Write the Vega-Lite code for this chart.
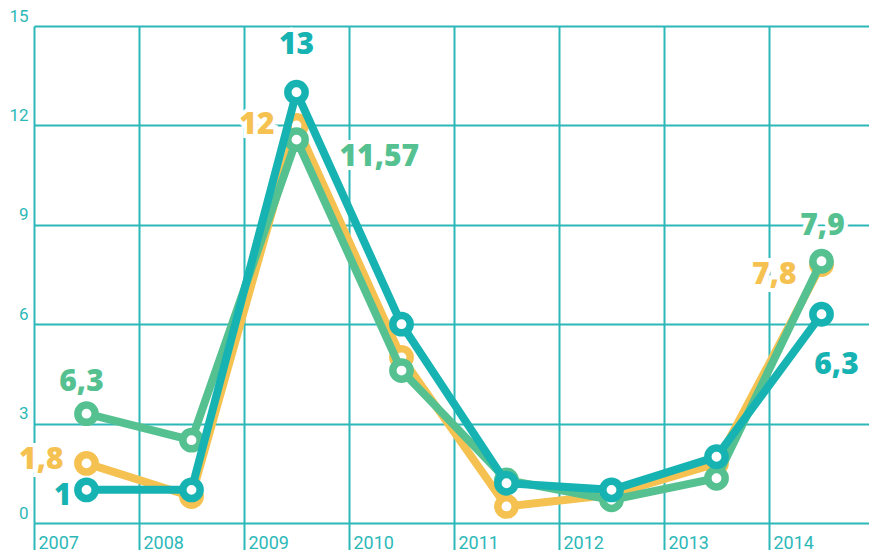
{
  "$schema": "https://vega.github.io/schema/vega-lite/v6.json",
  "width": 835,
  "height": 497,
  "autosize": "none",
  "padding": {"left": 34, "top": 26, "right": 0, "bottom": 27},
  "background": "white",
  "config": {"view": {"stroke": null}},
  "datasets": {
    "series": [
      {"year": "2007", "series": "yellow", "value": 1.8},
      {"year": "2008", "series": "yellow", "value": 0.8},
      {"year": "2009", "series": "yellow", "value": 12},
      {"year": "2010", "series": "yellow", "value": 5},
      {"year": "2011", "series": "yellow", "value": 0.5},
      {"year": "2012", "series": "yellow", "value": 0.85},
      {"year": "2013", "series": "yellow", "value": 1.8},
      {"year": "2014", "series": "yellow", "value": 7.8},
      {"year": "2007", "series": "green", "value": 3.3},
      {"year": "2008", "series": "green", "value": 2.5},
      {"year": "2009", "series": "green", "value": 11.57},
      {"year": "2010", "series": "green", "value": 4.6},
      {"year": "2011", "series": "green", "value": 1.3},
      {"year": "2012", "series": "green", "value": 0.7},
      {"year": "2013", "series": "green", "value": 1.35},
      {"year": "2014", "series": "green", "value": 7.9},
      {"year": "2007", "series": "teal", "value": 1},
      {"year": "2008", "series": "teal", "value": 1},
      {"year": "2009", "series": "teal", "value": 13},
      {"year": "2010", "series": "teal", "value": 6},
      {"year": "2011", "series": "teal", "value": 1.2},
      {"year": "2012", "series": "teal", "value": 1.0},
      {"year": "2013", "series": "teal", "value": 2.0},
      {"year": "2014", "series": "teal", "value": 6.3}
    ],
    "labels": [
      {"id": "a", "year": "2009", "series": "teal", "value": 13, "label": "13"},
      {"id": "b", "year": "2009", "series": "yellow", "value": 12, "label": "12"},
      {"id": "c", "year": "2009", "series": "green", "value": 11.57, "label": "11,57"},
      {"id": "d", "year": "2007", "series": "green", "value": 3.3, "label": "6,3"},
      {"id": "e", "year": "2007", "series": "yellow", "value": 1.8, "label": "1,8"},
      {"id": "f", "year": "2007", "series": "teal", "value": 1, "label": "1"},
      {"id": "g", "year": "2014", "series": "green", "value": 7.9, "label": "7,9"},
      {"id": "h", "year": "2014", "series": "yellow", "value": 7.8, "label": "7,8"},
      {"id": "i", "year": "2014", "series": "teal", "value": 6.3, "label": "6,3"}
    ]
  },
  "data": {"name": "series"},
  "encoding": {
    "x": {
      "field": "year", "type": "nominal",
      "scale": {"type": "band", "domain": ["2007","2008","2009","2010","2011","2012","2013","2014"], "range": [0, 840], "paddingInner": 0, "paddingOuter": 0},
      "axis": {
        "title": null, "domain": false, "bandPosition": 0,
        "grid": true, "gridColor": "#2db8b8", "gridWidth": 2, "gridOpacity": 1,
        "ticks": true, "tickSize": 27, "tickColor": "#2db8b8", "tickWidth": 2,
        "labelAlign": "left", "labelBaseline": "top", "labelOffset": -48, "labelPadding": -16,
        "labelColor": "#2db8b8", "labelFont": "Roboto", "labelFontSize": 18, "labelAngle": 0
      }
    },
    "y": {
      "field": "value", "type": "quantitative",
      "scale": {"domain": [0, 15], "nice": false, "zero": true},
      "axis": {
        "title": null, "domain": false, "ticks": false, "values": [0,3,6,9,12,15],
        "grid": true, "gridColor": "#2db8b8", "gridWidth": 2, "gridOpacity": 1,
        "labelAlign": "right", "labelBaseline": "bottom", "labelPadding": 6, "labelOffset": -1,
        "labelColor": "#2db8b8", "labelFont": "Roboto", "labelFontSize": 17
      }
    }
  },
  "layer": [
    {"transform": [{"filter": "datum.series === 'yellow'"}], "mark": {"type": "line", "color": "#f5c252", "strokeWidth": 8}},
    {"transform": [{"filter": "datum.series === 'yellow'"}], "mark": {"type": "point", "shape": "circle", "filled": true, "fill": "white", "stroke": "#f5c252", "strokeWidth": 7.5, "size": 300, "opacity": 1}},
    {"transform": [{"filter": "datum.series === 'green'"}], "mark": {"type": "line", "color": "#55c190", "strokeWidth": 8}},
    {"transform": [{"filter": "datum.series === 'green'"}], "mark": {"type": "point", "shape": "circle", "filled": true, "fill": "white", "stroke": "#55c190", "strokeWidth": 7.5, "size": 300, "opacity": 1}},
    {"transform": [{"filter": "datum.series === 'teal'"}], "mark": {"type": "line", "color": "#17b3b3", "strokeWidth": 8}},
    {"transform": [{"filter": "datum.series === 'teal'"}], "mark": {"type": "point", "shape": "circle", "filled": true, "fill": "white", "stroke": "#17b3b3", "strokeWidth": 7.5, "size": 300, "opacity": 1}},
    {"data": {"name": "labels"}, "transform": [{"filter": "datum.id === 'a'"}], "encoding": {"text": {"field": "label"}}, "layer": [
      {"mark": {"type": "text", "font": "Open Sans", "fontWeight": 800, "fontSize": 30, "align": "center", "baseline": "middle", "dy": -47, "stroke": "white", "strokeWidth": 8, "strokeOpacity": 1, "fill": "white"}},
      {"mark": {"type": "text", "font": "Open Sans", "fontWeight": 800, "fontSize": 30, "align": "center", "baseline": "middle", "dy": -47, "fill": "#17b3b3"}}
    ]},
    {"data": {"name": "labels"}, "transform": [{"filter": "datum.id === 'b'"}], "encoding": {"text": {"field": "label"}}, "layer": [
      {"mark": {"type": "text", "font": "Open Sans", "fontWeight": 800, "fontSize": 30, "align": "right", "baseline": "middle", "dx": -22, "dy": 0, "stroke": "white", "strokeWidth": 8, "strokeOpacity": 1, "fill": "white"}},
      {"mark": {"type": "text", "font": "Open Sans", "fontWeight": 800, "fontSize": 30, "align": "right", "baseline": "middle", "dx": -22, "dy": 0, "fill": "#f5c252"}}
    ]},
    {"data": {"name": "labels"}, "transform": [{"filter": "datum.id === 'c'"}], "encoding": {"text": {"field": "label"}}, "layer": [
      {"mark": {"type": "text", "font": "Open Sans", "fontWeight": 800, "fontSize": 30, "align": "left", "baseline": "middle", "dx": 43, "dy": 17, "stroke": "white", "strokeWidth": 8, "strokeOpacity": 1, "fill": "white"}},
      {"mark": {"type": "text", "font": "Open Sans", "fontWeight": 800, "fontSize": 30, "align": "left", "baseline": "middle", "dx": 43, "dy": 17, "fill": "#55c190"}}
    ]},
    {"data": {"name": "labels"}, "transform": [{"filter": "datum.id === 'd'"}], "encoding": {"text": {"field": "label"}}, "layer": [
      {"mark": {"type": "text", "font": "Open Sans", "fontWeight": 800, "fontSize": 30, "align": "center", "baseline": "middle", "dx": -5, "dy": -32, "stroke": "white", "strokeWidth": 8, "strokeOpacity": 1, "fill": "white"}},
      {"mark": {"type": "text", "font": "Open Sans", "fontWeight": 800, "fontSize": 30, "align": "center", "baseline": "middle", "dx": -5, "dy": -32, "fill": "#55c190"}}
    ]},
    {"data": {"name": "labels"}, "transform": [{"filter": "datum.id === 'e'"}], "encoding": {"text": {"field": "label"}}, "layer": [
      {"mark": {"type": "text", "font": "Open Sans", "fontWeight": 800, "fontSize": 30, "align": "right", "baseline": "middle", "dx": -23, "dy": -3, "stroke": "white", "strokeWidth": 8, "strokeOpacity": 1, "fill": "white"}},
      {"mark": {"type": "text", "font": "Open Sans", "fontWeight": 800, "fontSize": 30, "align": "right", "baseline": "middle", "dx": -23, "dy": -3, "fill": "#f5c252"}}
    ]},
    {"data": {"name": "labels"}, "transform": [{"filter": "datum.id === 'f'"}], "encoding": {"text": {"field": "label"}}, "layer": [
      {"mark": {"type": "text", "font": "Open Sans", "fontWeight": 800, "fontSize": 30, "align": "right", "baseline": "middle", "dx": -15, "dy": 6, "stroke": "white", "strokeWidth": 8, "strokeOpacity": 1, "fill": "white"}},
      {"mark": {"type": "text", "font": "Open Sans", "fontWeight": 800, "fontSize": 30, "align": "right", "baseline": "middle", "dx": -15, "dy": 6, "fill": "#17b3b3"}}
    ]},
    {"data": {"name": "labels"}, "transform": [{"filter": "datum.id === 'g'"}], "encoding": {"text": {"field": "label"}}, "layer": [
      {"mark": {"type": "text", "font": "Open Sans", "fontWeight": 800, "fontSize": 30, "align": "center", "baseline": "middle", "dx": 1, "dy": -35, "stroke": "white", "strokeWidth": 8, "strokeOpacity": 1, "fill": "white"}},
      {"mark": {"type": "text", "font": "Open Sans", "fontWeight": 800, "fontSize": 30, "align": "center", "baseline": "middle", "dx": 1, "dy": -35, "fill": "#55c190"}}
    ]},
    {"data": {"name": "labels"}, "transform": [{"filter": "datum.id === 'h'"}], "encoding": {"text": {"field": "label"}}, "layer": [
      {"mark": {"type": "text", "font": "Open Sans", "fontWeight": 800, "fontSize": 30, "align": "right", "baseline": "middle", "dx": -25, "dy": 10, "stroke": "white", "strokeWidth": 8, "strokeOpacity": 1, "fill": "white"}},
      {"mark": {"type": "text", "font": "Open Sans", "fontWeight": 800, "fontSize": 30, "align": "right", "baseline": "middle", "dx": -25, "dy": 10, "fill": "#f5c252"}}
    ]},
    {"data": {"name": "labels"}, "transform": [{"filter": "datum.id === 'i'"}], "encoding": {"text": {"field": "label"}}, "layer": [
      {"mark": {"type": "text", "font": "Open Sans", "fontWeight": 800, "fontSize": 30, "align": "center", "baseline": "middle", "dx": 15, "dy": 51, "stroke": "white", "strokeWidth": 8, "strokeOpacity": 1, "fill": "white"}},
      {"mark": {"type": "text", "font": "Open Sans", "fontWeight": 800, "fontSize": 30, "align": "center", "baseline": "middle", "dx": 15, "dy": 51, "fill": "#17b3b3"}}
    ]}
  ]
}
